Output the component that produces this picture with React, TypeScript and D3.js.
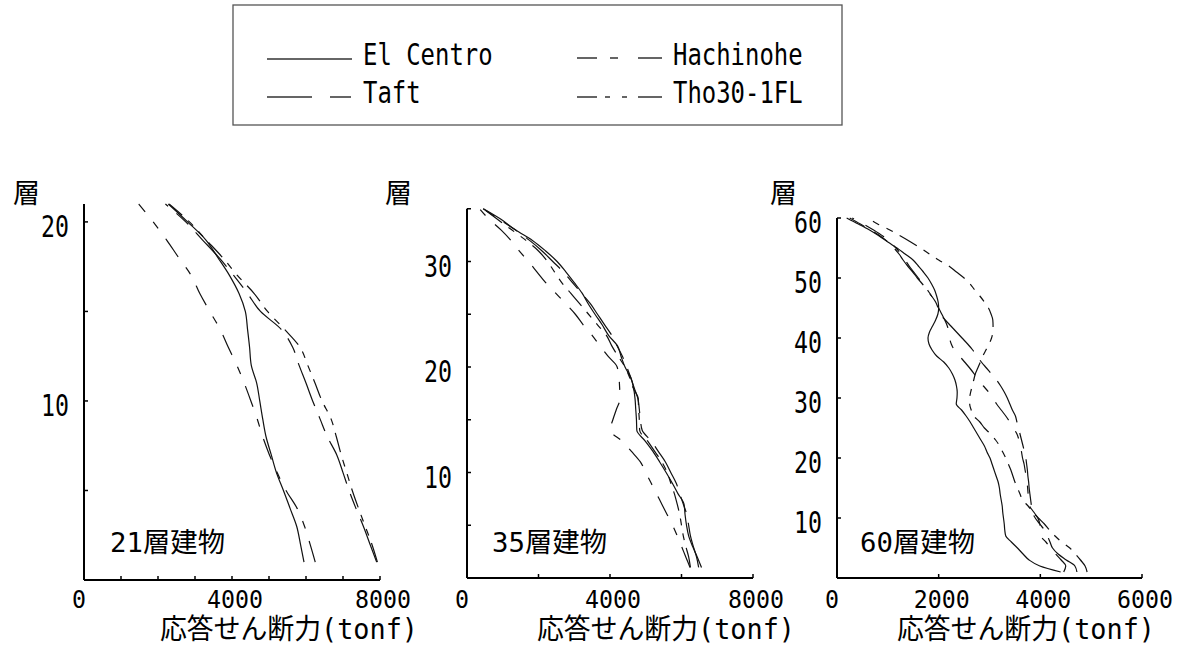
import * as d3 from "d3";

const seriesNames = ["El Centro", "Taft", "Hachinohe", "Tho30-1FL"];

// shear force (tonf) per floor, floor 1 first
const elCentro21 = [5946, 5850, 5748, 5570, 5390, 5200, 5060, 4920, 4830, 4750, 4667, 4520, 4475, 4420, 4360, 4190, 3935, 3620, 3290, 2800, 2279];
const taft21 = [7910, 7730, 7550, 7350, 7163, 7000, 6829, 6577, 6379, 6180, 6000, 5811, 5640, 5330, 4770, 4420, 4050, 3650, 3200, 2750, 2200];
const hachinohe21 = [6250, 6110, 5960, 5760, 5460, 5220, 5010, 4830, 4680, 4510, 4330, 4130, 3900, 3680, 3400, 3130, 2900, 2560, 2230, 1870, 1480];
const tho21 = [7930, 7780, 7600, 7420, 7250, 7100, 6950, 6820, 6676, 6433, 6243, 6046, 5838, 5420, 4960, 4600, 4150, 3750, 3300, 2850, 2300];

const elCentro35 = [6560, 6440, 6310, 6200, 6140, 6100, 6070, 5900, 5740, 5570, 5390, 5200, 4980, 4750, 4740, 4720, 4700, 4660, 4580, 4420, 4310, 4210, 3960, 3780, 3580, 3390, 3220, 3000, 2770, 2520, 2200, 1830, 1350, 950, 457];
const taft35 = [6480, 6420, 6330, 6250, 6200, 6150, 6050, 5950, 5850, 5700, 5550, 5350, 5150, 4900, 4850, 4820, 4780, 4680, 4580, 4470, 4350, 4200, 4050, 3850, 3650, 3450, 3200, 2950, 2700, 2400, 2100, 1750, 1350, 900, 450];
const hachinohe35 = [6240, 6120, 6000, 5880, 5750, 5600, 5450, 5300, 5150, 5000, 4850, 4600, 4330, 4000, 4080, 4180, 4280, 4270, 4250, 4200, 3950, 3720, 3500, 3250, 3030, 2760, 2480, 2200, 1960, 1720, 1460, 1230, 950, 620, 350];
const tho35 = [6250, 6200, 6120, 6050, 6000, 5950, 5880, 5800, 5700, 5600, 5450, 5250, 5050, 4830, 4820, 4800, 4790, 4650, 4550, 4420, 4230, 4050, 3900, 3650, 3400, 3150, 2900, 2650, 2450, 2250, 2000, 1650, 1250, 850, 460];

const elCentro60 = [4400, 3990, 3780, 3660, 3550, 3430, 3320, 3300, 3290, 3275, 3260, 3250, 3230, 3210, 3195, 3170, 3130, 3090, 3050, 3010, 2950, 2900, 2830, 2760, 2690, 2620, 2540, 2450, 2346, 2360, 2365, 2350, 2320, 2270, 2200, 2100, 1960, 1870, 1810, 1790, 1820, 1880, 1940, 1985, 2000, 1990, 1960, 1920, 1860, 1790, 1700, 1600, 1496, 1340, 1180, 1000, 830, 640, 420, 190];
const taft60 = [4720, 4680, 4510, 4350, 4240, 4190, 4140, 4080, 3990, 3900, 3840, 3825, 3810, 3795, 3780, 3770, 3755, 3745, 3730, 3715, 3690, 3660, 3630, 3600, 3570, 3540, 3510, 3450, 3400, 3350, 3290, 3220, 3140, 3040, 2940, 2840, 2760, 2670, 2570, 2460, 2350, 2240, 2130, 2030, 1990, 1940, 1860, 1770, 1680, 1580, 1490, 1390, 1300, 1220, 1120, 1000, 850, 660, 460, 250];
const hachinohe60 = [4460, 4500, 4410, 4300, 4200, 4110, 4010, 4000, 3990, 3950, 3870, 3790, 3770, 3760, 3750, 3740, 3720, 3700, 3680, 3650, 3630, 3610, 3580, 3540, 3470, 3400, 3320, 3230, 3140, 3060, 2980, 2880, 2780, 2700, 2610, 2510, 2410, 2310, 2248, 2215, 2200, 2170, 2120, 2060, 2000, 1940, 1860, 1780, 1690, 1600, 1510, 1420, 1340, 1260, 1160, 1040, 900, 720, 520, 300];
const tho60 = [4920, 4880, 4790, 4690, 4580, 4420, 4290, 4180, 4080, 3960, 3850, 3760, 3650, 3600, 3550, 3500, 3460, 3420, 3370, 3320, 3260, 3200, 3120, 3020, 2900, 2810, 2690, 2640, 2610, 2610, 2630, 2660, 2690, 2720, 2770, 2820, 2870, 2930, 2990, 3040, 3065, 3070, 3065, 3030, 2980, 2900, 2810, 2710, 2620, 2500, 2350, 2200, 2000, 1820, 1640, 1450, 1250, 1040, 800, 600];

const xTicks21 = [0, 1000, 2000, 3000, 4000, 5000, 6000, 7000, 8000];
const xLabels21 = [0, 4000, 8000];
const yTicks21 = [5, 10, 15, 20];
const yLabels21 = [10, 20];
const xTicks35 = [0, 2000, 4000, 6000, 8000];
const xLabels35 = [0, 4000, 8000];
const yTicks35 = [5, 10, 15, 20, 25, 30, 35];
const yLabels35 = [10, 20, 30];
const xTicks60 = [0, 2000, 4000, 6000];
const xLabels60 = [0, 2000, 4000, 6000];
const yTicks60 = [10, 20, 30, 40, 50, 60];
const yLabels60 = [10, 20, 30, 40, 50, 60];

const MONO = '"DejaVu Sans Mono", "Noto Sans CJK JP", sans-serif';
const CJK = '"Noto Sans CJK JP", sans-serif';

const dashes: Record<string, string | undefined> = {
  "El Centro": undefined,
  "Taft": "46,11,16,11",
  "Hachinohe": "22,13,8,13",
  "Tho30-1FL": "20,8,7,8,7,8",
};
const legendDashes: Record<string, string | undefined> = {
  "El Centro": undefined,
  "Taft": "45,18,21",
  "Hachinohe": "20,13,8,20,24",
  "Tho30-1FL": "20,8,5,12,5,11,24",
};

const panels = [
  {
    name: "21層建物", floors: 21, xMax: 8000, left: 84, right: 380, top: 204, bottom: 580,
    xTicks: xTicks21, xLabels: xLabels21, yTicks: yTicks21, yLabels: yLabels21,
    lines: [elCentro21, taft21, hachinohe21, tho21],
    storyX: 13, nameX: 110, titleX: 160,
  },
  {
    name: "35層建物", floors: 35, xMax: 8000, left: 467, right: 753, top: 208.75, bottom: 578,
    xTicks: xTicks35, xLabels: xLabels35, yTicks: yTicks35, yLabels: yLabels35,
    lines: [elCentro35, taft35, hachinohe35, tho35],
    storyX: 385, nameX: 492, titleX: 537,
  },
  {
    name: "60層建物", floors: 60, xMax: 6000, left: 837, right: 1142, top: 218, bottom: 578,
    xTicks: xTicks60, xLabels: xLabels60, yTicks: yTicks60, yLabels: yLabels60,
    lines: [elCentro60, taft60, hachinohe60, tho60],
    storyX: 770, nameX: 860, titleX: 897,
  },
];

function Panel({ p }: { p: (typeof panels)[number] }) {
  const x = d3.scaleLinear().domain([0, p.xMax]).range([p.left, p.right]);
  const y = d3.scaleLinear().domain([0, p.floors]).range([p.bottom, p.top]);
  const line = d3
    .line<number>()
    .x((v) => x(v))
    .y((_, i) => y(i + 1))
    .curve(d3.curveMonotoneY);
  const y0 = y(0);

  return (
    <g>
      {p.lines.map((vals, k) => (
        <path
          key={k}
          d={line(vals) ?? ""}
          fill="none"
          stroke="#111"
          strokeWidth={1.2}
          strokeDasharray={dashes[seriesNames[k]]}
        />
      ))}
      {/* axes */}
      <line x1={p.left} x2={p.left} y1={y(p.floors)} y2={y0} stroke="#000" strokeWidth={2} />
      <line x1={p.left} x2={p.right} y1={y0} y2={y0} stroke="#000" strokeWidth={2} />
      {p.yTicks.map((t) => (
        <line key={"yt" + t} x1={p.left} x2={p.left + 4} y1={y(t)} y2={y(t)} stroke="#000" strokeWidth={1.5} />
      ))}
      {p.xTicks.map((t) => (
        <line key={"xt" + t} x1={x(t)} x2={x(t)} y1={y0} y2={y0 - 4} stroke="#000" strokeWidth={1.5} />
      ))}
      {p.yLabels.map((t) => {
        const s = String(t);
        const w = 14 * s.length;
        return (
          <text key={"yl" + t} x={p.left - 15 - w} y={y(t) + 15} fontSize={30} fontFamily={MONO}
            textLength={w} lengthAdjust="spacingAndGlyphs">{s}</text>
        );
      })}
      {p.xLabels.map((t) => {
        const s = String(t);
        const w = 14 * s.length;
        const cx = x(t) + (t === 0 ? -5 : 3);
        return (
          <text key={"xl" + t} x={cx - w / 2} y={608} fontSize={25} fontFamily={MONO}
            textLength={w} lengthAdjust="spacingAndGlyphs">{s}</text>
        );
      })}
      <text x={p.storyX} y={203} fontSize={27} fontFamily={CJK}>層</text>
      <text x={p.nameX} y={552} fontSize={27} fontFamily={MONO} textLength={115} lengthAdjust="spacingAndGlyphs">
        {p.name}
      </text>
      <text x={p.titleX} y={639} fontSize={28} fontFamily={MONO} textLength={258} lengthAdjust="spacingAndGlyphs">
        応答せん断力(tonf)
      </text>
    </g>
  );
}

const legendPos = [
  { lx: 267, tx: 363, ly: 59, ty: 65 },
  { lx: 267, tx: 363, ly: 97, ty: 103 },
  { lx: 577, tx: 673, ly: 58, ty: 65 },
  { lx: 577, tx: 673, ly: 97, ty: 103 },
];

export default function App() {
  return (
    <svg width={1185} height={649} style={{ position: "absolute", left: 0, top: 0, background: "#fff" }}>
      <rect x={233} y={5} width={609} height={120} fill="none" stroke="#555" strokeWidth={1.3} />
      {seriesNames.map((s, i) => {
        const lp = legendPos[i];
        const w = 14.4 * s.length;
        return (
          <g key={s}>
            <line x1={lp.lx} x2={lp.lx + 85} y1={lp.ly} y2={lp.ly} stroke="#333" strokeWidth={1.3}
              strokeDasharray={legendDashes[s]} />
            <text x={lp.tx} y={lp.ty} fontSize={31} fontFamily={MONO} textLength={w}
              lengthAdjust="spacingAndGlyphs">{s}</text>
          </g>
        );
      })}
      {panels.map((p) => (
        <Panel key={p.name} p={p} />
      ))}
    </svg>
  );
}
